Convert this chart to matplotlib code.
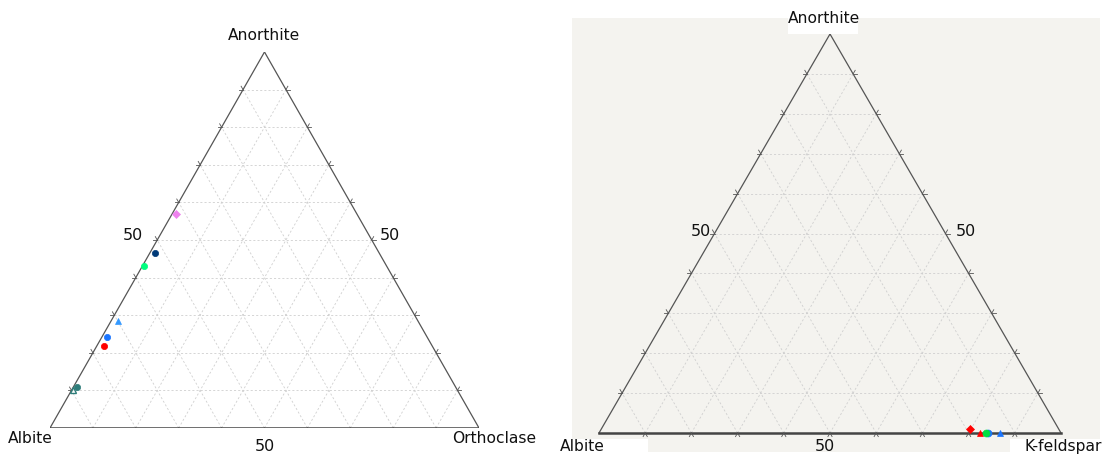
import numpy as np
import matplotlib
matplotlib.use("Agg")
import matplotlib.pyplot as plt
from matplotlib.patches import Rectangle

# ---------------- data ----------------
# Left diagram: Albite - Orthoclase - Anorthite (fractions)
left_an = [0.570, 0.465, 0.430, 0.285, 0.241, 0.217, 0.108, 0.101]
left_or = [0.009, 0.012, 0.005, 0.015, 0.013, 0.017, 0.008, 0.002]
left_colors = ["#ee82ee", "#003a78", "#00ff7f", "#3399ff", "#1a75ff", "#ff0000", "#2e7d7a", "#2e7d7a"]
left_markers = ["D", "o", "o", "^", "o", "o", "o", "^"]
left_filled = [True, True, True, True, True, True, True, False]

# Right diagram: Albite - K-feldspar - Anorthite
right_an = [0.010, 0.000, 0.000, 0.000, 0.000]
right_kf = [0.797, 0.825, 0.842, 0.838, 0.869]
right_colors = ["#ff0000", "#ff0000", "#1a75ff", "#00e040", "#1a75ff"]
right_markers = ["D", "^", "o", "o", "^"]

left_labels = ["Albite", "Orthoclase", "Anorthite"]
right_labels = ["Albite", "K-feldspar", "Anorthite"]
tick_label = "50"

H = np.sqrt(3) / 2
W, HPX = 1105, 456


def tern(k, an):
    k = np.asarray(k, float)
    an = np.asarray(an, float)
    return k + an / 2, an * H


def draw_frame(ax):
    grid_kw = dict(color="#cfcfcf", lw=0.6, ls=(0, (2.5, 2.5)), zorder=1)
    for i in range(1, 10):
        f = i / 10
        x0, y0 = tern(0, f); x1, y1 = tern(1 - f, f)
        ax.plot([x0, x1], [y0, y1], **grid_kw)
        x0, y0 = tern(f, 0); x1, y1 = tern(f, 1 - f)
        ax.plot([x0, x1], [y0, y1], **grid_kw)
        x0, y0 = tern(f, 0); x1, y1 = tern(0, f)
        ax.plot([x0, x1], [y0, y1], **grid_kw)
    ax.plot([0, 0.5], [0, H], color="#555555", lw=0.9, zorder=2)
    ax.plot([1, 0.5], [0, H], color="#555555", lw=0.9, zorder=2)
    ax.plot([0, 1], [0, 0], color="#444444", lw=1.8, zorder=2)
    L = 0.009
    tk = dict(color="#555555", lw=0.6, zorder=2)
    d60 = np.array([np.cos(np.pi / 3), np.sin(np.pi / 3)])
    d120 = np.array([-np.cos(np.pi / 3), np.sin(np.pi / 3)])
    for i in range(1, 10):
        f = i / 10
        p = np.array(tern(f, 0))
        for d in (-d60, -d120):
            q = p + L * d
            ax.plot([p[0], q[0]], [p[1], q[1]], **tk)
        p = np.array(tern(0, f))
        for d in (np.array([-1, 0]), d120):
            q = p + L * d
            ax.plot([p[0], q[0]], [p[1], q[1]], **tk)
        p = np.array(tern(1 - f, f))
        for d in (np.array([1, 0]), d60):
            q = p + L * d
            ax.plot([p[0], q[0]], [p[1], q[1]], **tk)


def place_axes(fig, left, right, top, bottom, tri_l, tri_r, tri_b, tri_t):
    ax = fig.add_axes([left / W, 1 - bottom / HPX, (right - left) / W, (bottom - top) / HPX])
    sx = (tri_r - tri_l)
    sy = (tri_b - tri_t) / H
    ax.set_xlim((left - tri_l) / sx, (right - tri_l) / sx)
    ax.set_ylim((tri_b - bottom) / sy, (tri_b - top) / sy)
    for s in ax.spines.values():
        s.set_visible(False)
    ax.set_xticks([]); ax.set_yticks([])
    return ax, sx, sy


fig = plt.figure(figsize=(W / 100, HPX / 100), dpi=100)
fig.patch.set_facecolor("white")
fs = 11.2
tx = dict(fontsize=fs, color="#111111", clip_on=False, family="DejaVu Sans", zorder=8)
nx = dict(fontsize=11.5, color="#111111", clip_on=False, zorder=8)

# ---------- left ----------
axl, sxl, syl = place_axes(fig, 50, 479, 53, 429, 50, 479, 429, 53)
axl.patch.set_alpha(0)
draw_frame(axl)
xs, ys = tern(left_or, left_an)
for x, y, c, m, fl in zip(xs, ys, left_colors, left_markers, left_filled):
    ms = 4.5 if m != "^" else 4
    axl.plot(x, y, marker=m, ms=ms, color=c, mfc=c if fl else "none", mew=1.0 if not fl else 0.5,
             ls="none", zorder=5, clip_on=False)
axl.text(0.5, H + 18 / syl, left_labels[2], ha="center", va="center", **tx)
axl.text(-42 / sxl, -10 / syl, left_labels[0], ha="left", va="center", **tx)
axl.text(1 - 27 / sxl, -10 / syl, left_labels[1], ha="left", va="center", **tx)
axl.text(0.5, -18 / syl, tick_label, ha="center", va="center", **nx)
axl.text(0.25 - 24 / sxl, H / 2 + 5 / syl, tick_label, ha="center", va="center", **nx)
axl.text(0.75 + 18 / sxl, H / 2 + 5 / syl, tick_label, ha="center", va="center", **nx)

# ---------- right ----------
axr, sxr, syr = place_axes(fig, 572, 1100, 19, 453, 599, 1061, 434, 35)
axr.set_facecolor("#f4f3ef")
draw_frame(axr)
xs, ys = tern(right_kf, right_an)
for x, y, c, m in zip(xs, ys, right_colors, right_markers):
    ms = 5 if m == "o" else 4.5
    axr.plot(x, y, marker=m, ms=ms, color=c, mfc=c, mew=0.5, ls="none", zorder=5, clip_on=False)


def px_box(ax, sx, sy, x0, x1, y0, y1):
    # pixel box -> data box for right axes (triangle origin at 599, 434)
    dx0 = (x0 - 599) / sx
    dx1 = (x1 - 599) / sx
    dy0 = (434 - y1) / sy
    dy1 = (434 - y0) / sy
    ax.add_patch(Rectangle((dx0, dy0), dx1 - dx0, dy1 - dy0, fc="white", ec="none",
                           zorder=7, clip_on=False))


px_box(axr, sxr, syr, 788, 858, 6, 35)
px_box(axr, sxr, syr, 556, 648, 440, 458)
px_box(axr, sxr, syr, 1010, 1106, 440, 458)

axr.text(0.5 - 6 / sxr, H + 17 / syr, right_labels[2], ha="center", va="center", **tx)
axr.text(-39 / sxr, -13 / syr, right_labels[0], ha="left", va="center", **tx)
axr.text(1 - 37 / sxr, -13 / syr, right_labels[1], ha="left", va="center", **tx)
axr.text(0.5 - 5 / sxr, -13 / syr, tick_label, ha="center", va="center", **nx)
axr.text(0.25 - 14 / sxr, H / 2 + 3 / syr, tick_label, ha="center", va="center", **nx)
axr.text(0.75 + 20 / sxr, H / 2 + 3 / syr, tick_label, ha="center", va="center", **nx)

fig.savefig("out.png", dpi=100, facecolor="white")
